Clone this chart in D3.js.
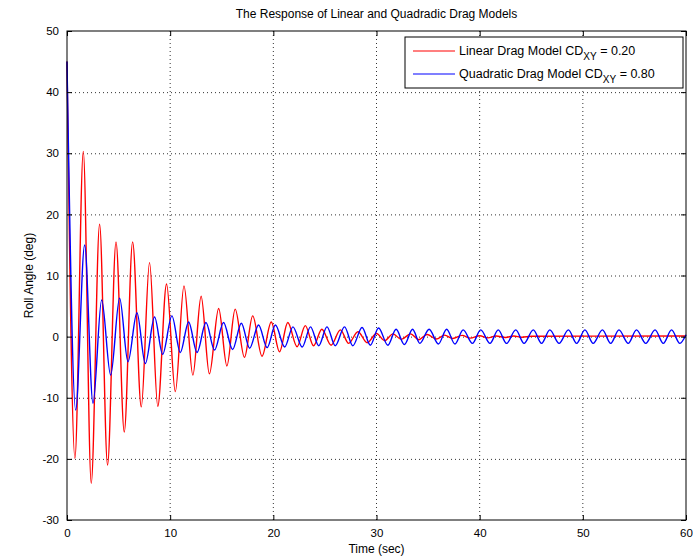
<!DOCTYPE html>
<html>
<head>
<meta charset="utf-8">
<script src="https://cdn.jsdelivr.net/npm/d3@7"></script>
<style>
  body { margin: 0; background: #fff; }
  svg { font-family: "Liberation Sans", Arial, Helvetica, sans-serif; }
</style>
</head>
<body>
<div id="chart"></div>
<script>
// extremes (time in sec, roll angle in deg)
const linearT = [0, 0.77, 1.58, 2.35, 3.16, 3.93, 4.75, 5.55, 6.36, 7.2, 8.0, 8.8, 9.65, 10.5, 11.34, 12.2,
  13.0, 13.8, 14.7, 15.5, 16.3, 17.2, 18.0, 18.9, 19.8, 20.6, 21.4, 22.3, 23.1, 23.9, 24.7, 25.6, 26.5,
  27.3, 28.2, 29.1, 30.0, 30.8, 31.6, 32.4, 33.3, 34.1, 34.9, 35.8, 36.6, 37.4, 38.3, 39.1, 40.0, 40.8,
  41.6, 42.5, 43.3, 44.1, 45.0, 60];
const linearV = [45, -19.9, 30.3, -24, 18.4, -21, 15.5, -15.6, 15.5, -11.5, 12.1, -11.4, 8.6, -9.0, 8.3, -6.3,
  6.6, -6.1, 4.6, -4.8, 4.5, -3.4, 3.4, -3.2, 2.4, -2.5, 2.3, -1.65, 1.8, -1.5, 1.2, -1.4, 1.1,
  -1.1, 0.8, -1.0, 0.5, -0.65, 0.45, -0.45, 0.45, -0.5, 0.35, -0.4, 0.25, -0.3, 0.2, -0.25, 0.15, -0.2,
  0.1, -0.15, 0.1, -0.1, 0.05, 0.1];

const quadT = [0, 0.84, 1.71, 2.52, 3.36, 4.23, 5.10, 5.91, 6.78, 7.59, 8.49, 9.27, 10.17, 10.98, 11.79, 12.6,
  13.47, 14.3, 15.17, 16.05, 16.9, 17.7, 18.57, 19.4, 20.2, 21.1, 21.9, 22.8, 23.6, 24.4, 25.2, 26.0,
  26.9, 27.7, 28.6, 29.4, 30.2, 31.1, 31.9, 32.7, 33.5, 34.2, 35.1, 36.0, 36.8, 37.6, 38.4, 39.3,
  40.1, 41.0, 41.8, 42.6, 43.5, 44.3, 45.2, 46.0, 46.8, 47.7, 48.6, 49.4, 50.2, 51.0, 51.9, 52.7,
  53.5, 54.4, 55.2, 56.1, 57.0, 57.8, 58.6, 59.4, 60];
const quadV = [45, -12.0, 15.0, -10.9, 6.0, -6.3, 6.3, -4.1, 3.9, -4.4, 3.2, -2.9, 3.4, -2.6, 2.4, -2.6,
  2.3, -2.2, 2.3, -2.1, 2.2, -1.9, 1.9, -1.8, 1.9, -1.7, 1.6, -1.7, 1.6, -1.5, 1.6, -1.5,
  1.6, -1.5, 1.5, -1.4, 1.4, -1.4, 1.2, -1.3, 1.2, -1.1, 1.2, -1.2, 1.2, -1.2, 1.1, -1.1,
  1.1, -1.1, 1.1, -1.1, 1.1, -1.1, 1.1, -1.1, 1.1, -1.1, 1.1, -1.1, 1.1, -1.1, 1.1, -1.1,
  1.1, -1.1, 1.1, -1.1, 1.1, -1.1, 1.1, -1.1, 0.3];

const xTicks = [0, 10, 20, 30, 40, 50, 60];
const yTicks = [-30, -20, -10, 0, 10, 20, 30, 40, 50];
const seriesNames = ["Linear Drag Model CD", "Quadratic Drag Model CD"];
const seriesValues = [" = 0.20", " = 0.80"];
const seriesColors = ["#ff0000", "#0000ff"];

const width = 693, height = 556;
const margin = {left: 67, right: 7, top: 31, bottom: 36};
const iw = width - margin.left - margin.right;
const ih = height - margin.top - margin.bottom;

const svg = d3.select("#chart").append("svg")
  .attr("width", width)
  .attr("height", height);

const x = d3.scaleLinear().domain([0, 60]).range([0, iw]);
const y = d3.scaleLinear().domain([-30, 50]).range([ih, 0]);

const g = svg.append("g").attr("transform", `translate(${margin.left},${margin.top})`);

// grid
g.append("g").selectAll("line").data(xTicks.slice(1, -1)).join("line")
  .attr("x1", d => x(d)).attr("x2", d => x(d))
  .attr("y1", 0).attr("y2", ih)
  .attr("stroke", "#333").attr("stroke-width", 1).attr("stroke-dasharray", "1,3");
g.append("g").selectAll("line").data(yTicks.slice(1, -1)).join("line")
  .attr("y1", d => y(d) + 0.5).attr("y2", d => y(d) + 0.5)
  .attr("x1", 0).attr("x2", iw)
  .attr("stroke", "#333").attr("stroke-width", 1).attr("stroke-dasharray", "1,3");

// lines
const line = d3.line().curve(d3.curveMonotoneX).x(d => x(d[0])).y(d => y(d[1]));
const series = [d3.zip(linearT, linearV), d3.zip(quadT, quadV)];
series.forEach((s, i) => {
  g.append("path").datum(s)
    .attr("fill", "none")
    .attr("stroke", seriesColors[i])
    .attr("stroke-width", 1.4)
    .attr("d", line);
});

// axes (ticks inward, box on)
const axisStyle = sel => {
  sel.select(".domain").remove();
  sel.selectAll("text").attr("font-size", 11.5).attr("fill", "#000");
  sel.selectAll("line").attr("stroke", "#000");
};
const plain = d => String(d);
g.append("g").attr("transform", `translate(0,${ih})`)
  .call(d3.axisBottom(x).tickValues(xTicks).tickSize(-5).tickPadding(9).tickFormat(plain))
  .call(axisStyle);
g.append("g")
  .call(d3.axisTop(x).tickValues(xTicks).tickSize(-5).tickFormat(""))
  .call(axisStyle);
g.append("g")
  .call(d3.axisLeft(y).tickValues(yTicks).tickSize(-5).tickPadding(8).tickFormat(plain))
  .call(axisStyle);
g.append("g").attr("transform", `translate(${iw},0)`)
  .call(d3.axisRight(y).tickValues(yTicks).tickSize(-5).tickFormat(""))
  .call(axisStyle);

g.append("rect")
  .attr("x", 0).attr("y", 0).attr("width", iw).attr("height", ih)
  .attr("fill", "none").attr("stroke", "#000").attr("stroke-width", 1);

// titles
svg.append("text")
  .attr("x", margin.left + iw / 2).attr("y", 18)
  .attr("text-anchor", "middle").attr("font-size", 12)
  .text("The Response of Linear and Quadradic Drag Models");
svg.append("text")
  .attr("x", margin.left + iw / 2).attr("y", 553)
  .attr("text-anchor", "middle").attr("font-size", 12)
  .text("Time (sec)");
svg.append("text")
  .attr("transform", `translate(33,${margin.top + ih / 2}) rotate(-90)`)
  .attr("text-anchor", "middle").attr("font-size", 12)
  .text("Roll Angle (deg)");

// legend
const lg = svg.append("g").attr("transform", "translate(405,37)");
lg.append("rect").attr("width", 278).attr("height", 51)
  .attr("fill", "#fff").attr("stroke", "#000").attr("stroke-width", 1);
seriesNames.forEach((name, i) => {
  const yy = 14 + i * 23;
  lg.append("line").attr("x1", 8).attr("x2", 50).attr("y1", yy).attr("y2", yy)
    .attr("stroke", seriesColors[i]).attr("stroke-width", 1.2);
  const t = lg.append("text").attr("x", 54).attr("y", yy + 4).attr("font-size", 12.5);
  t.append("tspan").text(name);
  t.append("tspan").attr("dy", 5).attr("font-size", 10).text("XY");
  t.append("tspan").attr("dy", -5).text(seriesValues[i]);
});
</script>
</body>
</html>
